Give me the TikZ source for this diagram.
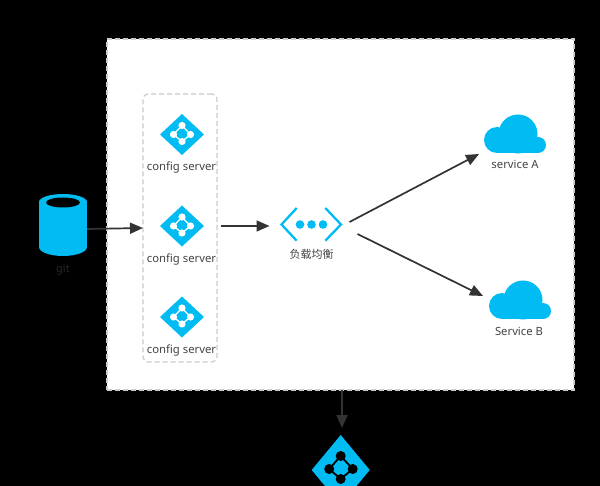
\documentclass[tikz,border=0pt]{standalone}
\usepackage{fontspec}
\setmainfont{Noto Sans}
\newfontfamily\cjkf{Noto Sans CJK SC}
\usetikzlibrary{arrows.meta,shapes.geometric}
\definecolor{azure}{RGB}{0,188,242}
\definecolor{ink}{RGB}{51,51,51}
\definecolor{label}{RGB}{68,68,68}
\definecolor{dashc}{RGB}{204,204,204}
\tikzset{
  conn/.style={draw=ink,line width=1.7pt,-{Triangle[length=13pt,width=11pt]}},
  lbl/.style={text=label,font=\fontsize{11.3}{13}\selectfont,inner sep=0pt},
  ghost/.style={inner sep=0pt,outer sep=0pt},
  dashbox/.style={draw=dashc,line width=1.3pt,dash pattern=on 5pt off 3pt},
  cfgdiamond/.style={diamond,aspect=1.07,fill=azure,draw=none,inner sep=0pt,outer sep=0pt,minimum width=44pt,minimum height=41pt},
}
% #1 centre x, #2 centre y, #3 name
\newcommand{\cfgicon}[3]{%
  \node[cfgdiamond] (#3) at (#1,#2) {};
  \begin{scope}[shift={(#1,#2)}]
    \draw[white,line width=1.3pt] (0,-9) -- (-8.5,0) -- (0,7) -- (8.5,0) -- cycle;
    \fill[white] (0,-9) circle (3.6);
    \fill[white] (-8.5,0) circle (3.6);
    \fill[white] (0,7) circle (3.6);
    \fill[white] (8.5,0) circle (3.6);
  \end{scope}}
% #1 centre x, #2 centre y, #3 name
\newcommand{\cloudicon}[3]{%
  \node[ghost,minimum width=62pt,minimum height=39pt] (#3) at (#1,#2) {};
  \begin{scope}[shift={(#3.south west)}]
    \fill[azure] (34,-19) circle (19.5);
    \fill[azure] (13,-13) circle (13);
    \fill[azure] (54,-8) circle (8);
    \fill[azure] (13,-13) rectangle (54,0);
  \end{scope}}
\begin{document}
\begin{tikzpicture}[x=1pt,y=-1pt]
\useasboundingbox (0,0) rectangle (600,486);
\clip (0,0) rectangle (600,486);
\fill[black] (0,0) rectangle (600,486);
% frame
\node[dashbox,fill=white,minimum width=467pt,minimum height=351pt,inner sep=0pt,outer sep=0pt] (frame) at (340.5,214.5) {};
% config group
\node[dashbox,rounded corners=5pt,minimum width=74pt,minimum height=268pt,inner sep=0pt,outer sep=0pt] (group) at (180,228) {};
\cfgicon{182}{134.5}{cfgA}
\cfgicon{182}{226}{cfgB}
\cfgicon{182}{317}{cfgC}
\node[lbl] (cfgAt) at (181.5,168) {config server};
\node[lbl] (cfgBt) at (181.5,260) {config server};
\node[lbl] (cfgCt) at (181.5,351) {config server};
% git cylinder
\node[ghost,minimum width=48pt,minimum height=62pt] (git) at (63,225) {};
\fill[azure] (39,202) rectangle (87,247);
\fill[azure] (63,202) ellipse[x radius=24,y radius=8];
\fill[azure] (63,247) ellipse[x radius=24,y radius=9];
\fill[black] (63,202.5) ellipse[x radius=17,y radius=5];
\node[text=black!85!white,font=\fontsize{11}{13}\selectfont,inner sep=0pt] (gitt) at (63,270) {git};
% load balancer
\node[ghost,minimum width=62pt,minimum height=34pt] (lb) at (311.5,224.5) {};
\draw[azure,line width=2.3pt] (296.7,208) -- (281.5,224.5) -- (296.7,240.7);
\draw[azure,line width=2.3pt] (325.3,208) -- (341,224.5) -- (325.3,240.7);
\fill[azure] (300,224.5) circle (4.3);
\fill[azure] (311.5,224.5) circle (4.3);
\fill[azure] (323,224.5) circle (4.3);
\node[text=label,font=\cjkf\fontsize{11}{13}\selectfont,inner sep=0pt] (lbt) at (311.5,254.5) {负载均衡};
% clouds
\cloudicon{515}{133.5}{svcA}
\cloudicon{520}{299.5}{svcB}
\node[lbl] (svcAt) at (515,164) {service A};
\node[lbl] (svcBt) at (519,331) {Service B};
% bottom icon
\node[diamond,aspect=0.83,fill=azure,inner sep=0pt,outer sep=0pt,minimum width=58pt,minimum height=70pt] (client) at (340.7,470) {};
\begin{scope}[shift={(client.center)}]
  \draw[black,line width=1.8pt] (0,-14) -- (-11.5,-1) -- (0,9) -- (12,-1) -- cycle;
  \fill[black] (0,-14) circle (5);
  \fill[black] (-11.5,-1) circle (5);
  \fill[black] (0,9) circle (5);
  \fill[black] (12,-1) circle (5);
\end{scope}
% connectors
\coordinate (gitout) at ([yshift=-4pt]git.east);
\draw[conn] (gitout) -- (group.west);
\coordinate (lbin) at ([xshift=-11pt,yshift=-1.5pt]lb.west);
\draw[conn] ([xshift=17pt]cfgB.east) -- (lbin);
\draw[conn] ([xshift=7pt,yshift=2.5pt]lb.east) -- ([xshift=-5pt,yshift=-20.5pt]svcA.west);
\draw[conn] ([xshift=15pt,yshift=-9.5pt]lb.east) -- ([xshift=-6pt,yshift=3.5pt]svcB.west);
\coordinate (clientin) at (342,428);
\draw[conn] (clientin|-frame.south) -- (clientin);
\end{tikzpicture}
\end{document}
